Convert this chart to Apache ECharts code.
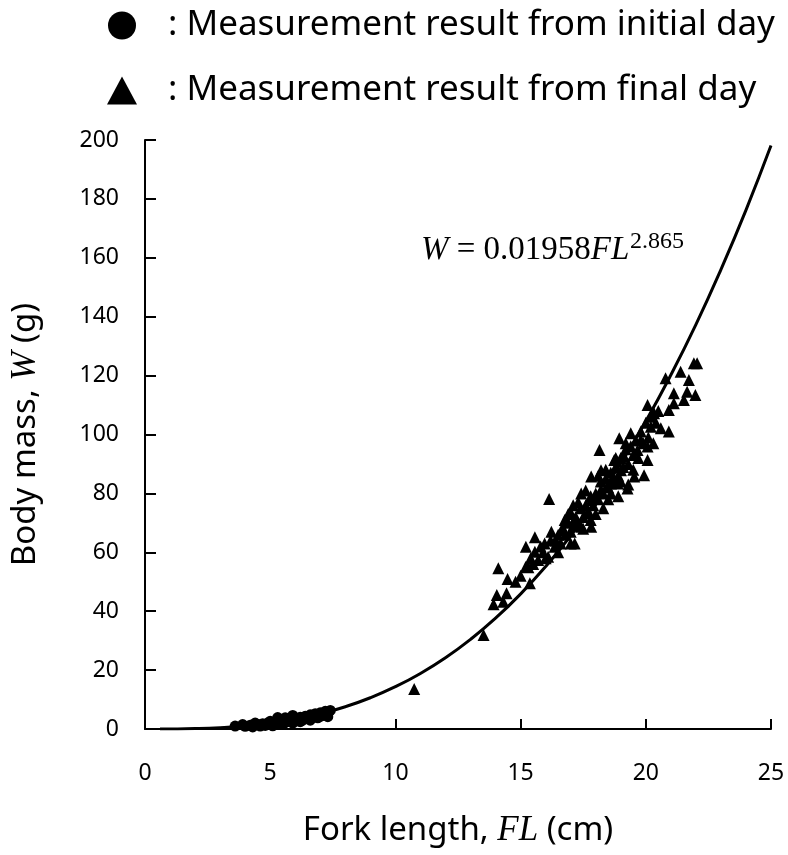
<!DOCTYPE html>
<html>
<head>
<meta charset="utf-8">
<script src="https://cdn.jsdelivr.net/npm/echarts@6/dist/echarts.min.js"></script>
<style>
  html, body { margin: 0; padding: 0; background: #fff; }
  #chart { width: 788px; height: 855px; }
</style>
</head>
<body>
<div id="chart"></div>
<script>
// initial day measurements [FL cm, W g]
let initialDay = [
  [3.6, 1.0], [3.9, 1.5], [4.0, 0.9], [4.2, 1.3], [4.3, 0.7], [4.4, 2.0], [4.5, 1.5],
  [4.6, 1.0], [4.7, 1.8], [4.8, 1.2], [4.9, 2.0], [5.0, 1.5], [5.0, 2.6], [5.1, 1.1],
  [5.2, 2.2], [5.3, 3.9], [5.3, 1.8], [5.4, 2.5], [5.5, 3.0], [5.5, 1.6], [5.6, 2.2],
  [5.6, 3.8], [5.7, 3.3], [5.8, 2.6], [5.9, 4.6], [5.9, 2.0], [6.0, 3.5], [6.1, 2.8],
  [6.2, 4.0], [6.2, 2.5], [6.3, 3.0], [6.4, 4.3], [6.5, 3.5], [6.6, 4.8], [6.6, 3.0],
  [6.7, 4.0], [6.8, 5.2], [6.9, 3.8], [7.0, 5.5], [7.0, 4.3], [7.1, 4.8], [7.2, 6.0],
  [7.3, 5.0], [7.3, 4.2], [7.4, 6.3]
];

// final day measurements [FL cm, W g]
let finalDay = [
  [10.75, 13.6], [13.52, 31.9], [13.92, 42.4], [14.05, 45.5], [14.11, 54.6], [14.31, 43.2],
  [14.44, 46.1], [14.48, 50.9], [14.8, 50], [15.0, 52], [15.2, 55], [15.21, 61.9],
  [15.31, 54.9], [15.37, 49.5], [15.4, 58], [15.5, 56], [15.57, 65.1], [15.57, 60.2],
  [15.7, 57.4], [15.8, 62], [15.9, 60], [15.96, 63.0], [16.0, 58], [16.1, 58.5],
  [16.14, 78.1], [16.2, 64], [16.23, 67.0], [16.36, 61.9], [16.4, 64], [16.5, 66],
  [16.5, 60], [16.6, 63], [16.63, 67.6], [16.7, 68], [16.76, 71.0], [16.8, 66],
  [16.9, 70], [16.9, 73], [17.0, 67], [17.0, 63], [17.02, 73.2], [17.1, 69], [17.1, 76],
  [17.16, 63.0], [17.16, 71.0], [17.2, 72], [17.3, 70], [17.3, 77], [17.4, 75],
  [17.42, 80.0], [17.42, 68.7], [17.5, 72], [17.5, 68], [17.6, 76], [17.6, 81],
  [17.69, 73.2], [17.7, 74], [17.8, 79], [17.8, 71], [17.82, 68.7], [17.82, 77.8],
  [17.82, 85.7], [17.9, 76], [18.0, 80], [18.0, 73], [18.1, 78], [18.1, 86],
  [18.15, 94.7], [18.2, 84], [18.21, 81.2], [18.21, 87.9], [18.3, 80], [18.3, 75],
  [18.4, 85], [18.4, 88], [18.5, 82], [18.5, 78], [18.6, 87], [18.61, 80.0],
  [18.61, 83.4], [18.7, 84], [18.74, 91.3], [18.8, 89], [18.8, 92], [18.88, 83.4],
  [18.9, 86], [18.9, 79], [18.94, 98.7], [19.0, 92], [19.0, 84], [19.01, 87.9],
  [19.1, 89], [19.14, 92.5], [19.2, 95], [19.2, 97], [19.27, 81.7], [19.3, 90],
  [19.3, 83], [19.4, 96], [19.4, 100.4], [19.5, 93], [19.5, 88], [19.54, 85.7],
  [19.6, 98], [19.67, 94.7], [19.7, 92], [19.8, 101], [19.8, 98.1], [19.9, 97],
  [19.93, 86.2], [20.0, 104], [20.07, 110.0], [20.07, 95.9], [20.07, 91.3], [20.1, 99],
  [20.2, 106], [20.2, 102.6], [20.3, 97], [20.33, 107.2], [20.4, 104], [20.5, 108],
  [20.6, 102.1], [20.79, 119.1], [20.92, 108.3], [20.92, 101.0], [21.12, 114.0],
  [21.12, 110.6], [21.39, 121.3], [21.52, 111.7], [21.65, 114.5], [21.72, 118.5],
  [21.92, 124.2], [21.98, 113.4], [22.05, 124.2]
];

// fitted curve W = 0.01958 FL^2.865, values read at whole cm
let fitFL = [0.6, 1, 2, 3, 4, 5, 6, 7, 8, 9, 10, 11, 12, 13, 14, 15, 16, 17, 18, 19, 20, 21, 22, 23, 24, 25];
let fitW = [0.005, 0.02, 0.14, 0.46, 1.04, 1.97, 3.32, 5.17, 7.57, 10.61, 14.36, 18.86, 24.19, 30.43,
  37.63, 45.86, 55.16, 65.61, 77.30, 90.21, 104.5, 120.2, 137.3, 156.0, 176.2, 198.1];

let xTicks = [0, 5, 10, 15, 20, 25];
let yTicks = [0, 20, 40, 60, 80, 100, 120, 140, 160, 180, 200];

let sans = '"Noto Sans", "Open Sans", sans-serif';
let serif = '"Liberation Serif", "DejaVu Serif", serif';

let fitData = fitFL.map(function (fl, i) { return [fl, fitW[i]]; });

let option = {
    backgroundColor: '#fff',
    animation: false,
    grid: { left: 141, right: 17, top: 140, bottom: 126 },
    legend: {
        orient: 'vertical',
        left: 102,
        top: 0,
        itemWidth: 30,
        itemHeight: 28,
        itemGap: 24,
        data: [
            { name: 'initial', icon: 'circle' },
            { name: 'final', icon: 'triangle' }
        ],
        formatter: function (name) {
            return name === 'initial'
                ? ': Measurement result from initial day'
                : ': Measurement result from final day';
        },
        textStyle: {
            fontFamily: sans, fontSize: 35, lineHeight: 41, color: '#000',
            padding: [0, 0, 0, 26]
        }
    },
    xAxis: {
        type: 'value',
        min: 0,
        max: 25,
        interval: 5,
        name: '{n|Fork length, }{i|FL}{n| (cm)}',
        nameLocation: 'middle',
        nameGap: 84,
        nameTextStyle: {
            rich: {
                n: { fontFamily: sans, fontSize: 33, color: '#000' },
                i: { fontFamily: serif, fontStyle: 'italic', fontSize: 35, color: '#000' }
            }
        },
        axisLine: { lineStyle: { color: '#000', width: 2 } },
        axisTick: { show: true, inside: true, length: 10, lineStyle: { color: '#000', width: 2 } },
        axisLabel: {
            margin: 33,
            fontFamily: sans,
            fontSize: 23,
            color: '#000',
            customValues: xTicks
        },
        splitLine: { show: false }
    },
    yAxis: {
        type: 'value',
        min: 0,
        max: 200,
        interval: 20,
        name: '{n|Body mass, }{i|W}{n| (g)}',
        nameLocation: 'middle',
        nameGap: 102,
        nameRotate: 90,
        nameTextStyle: {
            rich: {
                n: { fontFamily: sans, fontSize: 33, color: '#000' },
                i: { fontFamily: serif, fontStyle: 'italic', fontSize: 35, color: '#000' }
            }
        },
        axisLine: { show: true, lineStyle: { color: '#000', width: 2 } },
        axisTick: { show: true, inside: true, length: 11, lineStyle: { color: '#000', width: 2 } },
        axisLabel: {
            margin: 26,
            fontFamily: sans,
            fontSize: 23,
            color: '#000',
            customValues: yTicks
        },
        splitLine: { show: false }
    },
    graphic: [
        {
            type: 'text',
            left: 421,
            top: 234,
            style: {
                text: '{i|W} = 0.01958{i|FL}',
                rich: {
                    i: { fontFamily: serif, fontStyle: 'italic', fontSize: 33, fill: '#000' }
                },
                fontFamily: serif,
                fontSize: 33,
                fill: '#000'
            }
        },
        {
            type: 'text',
            left: 630,
            top: 230,
            style: { text: '2.865', fontFamily: serif, fontSize: 24, fill: '#000' }
        }
    ],
    series: [
        {
            name: 'fit',
            type: 'line',
            data: fitData,
            smooth: true,
            showSymbol: false,
            lineStyle: { color: '#000', width: 3 },
            z: 1
        },
        {
            name: 'initial',
            type: 'scatter',
            symbol: 'circle',
            symbolSize: 11,
            data: initialDay,
            itemStyle: { color: '#000', opacity: 1 },
            z: 3
        },
        {
            name: 'final',
            type: 'scatter',
            symbol: 'triangle',
            symbolSize: 12,
            data: finalDay,
            itemStyle: { color: '#000', opacity: 1 },
            z: 3
        }
    ]
};

let chart = echarts.init(document.getElementById('chart'), null, { renderer: 'canvas' });
chart.setOption(option);
</script>
</body>
</html>
